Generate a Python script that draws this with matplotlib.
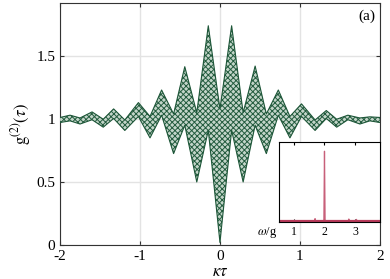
import numpy as np
import matplotlib
matplotlib.use('Agg')
from matplotlib import pyplot as plt

# envelope of g2(tau), read at the slow extrema
tau = [-2.0, -1.875, -1.75, -1.60, -1.46, -1.33, -1.19, -1.02, -0.875, -0.73,
       -0.58, -0.44, -0.29, -0.146, 0.0, 0.146, 0.29, 0.44, 0.58, 0.73,
       0.875, 1.02, 1.19, 1.33, 1.46, 1.60, 1.75, 1.875, 2.0]
g2_upper = [1.012, 1.03, 1.008, 1.056, 0.998, 1.08, 0.992, 1.13, 1.02, 1.23,
            1.04, 1.415, 1.05, 1.74, 1.08, 1.74, 1.05, 1.42, 1.04, 1.23,
            1.02, 1.12, 0.992, 1.067, 0.998, 1.03, 1.008, 1.017, 1.012]
g2_lower = [0.972, 0.985, 0.96, 0.994, 0.935, 1.004, 0.909, 1.02, 0.85, 1.03,
            0.725, 0.95, 0.50, 0.91, 0.02, 0.91, 0.50, 0.95, 0.725, 1.03,
            0.85, 1.02, 0.909, 1.004, 0.935, 0.994, 0.96, 0.985, 0.972]

# inset spectrum
omega = [0.5, 1.67, 1.69, 1.71, 1.98, 2.0, 2.02, 2.78, 2.8, 2.82, 3.03, 3.05, 3.07, 3.8]
spec = [0, 0, 0.03, 0, 0, 0.88, 0, 0, 0.025, 0, 0, 0.02, 0, 0]

xticks = [-2, -1, 0, 1, 2]
yticks = [0, 0.5, 1, 1.5]
inset_ticks = [1, 2, 3]

plt.rcParams['font.family'] = ['Liberation Serif', 'DejaVu Serif']
plt.rcParams['mathtext.fontset'] = 'stix'
plt.rcParams['axes.unicode_minus'] = False
plt.rcParams['hatch.linewidth'] = 0.7

green = '#1d5638'
fig = plt.figure(figsize=(3.9, 2.79), dpi=100)
ax = fig.add_axes([0.154, 0.122, 0.82, 0.867])

ax.fill_between(tau, g2_lower, g2_upper, facecolor='#c3d5c9', edgecolor='#245c3f',
                hatch='xxxxxx', linewidth=0, zorder=3)
ax.plot(tau, g2_upper, color=green, lw=0.8, zorder=4)
ax.plot(tau, g2_lower, color=green, lw=0.8, zorder=4)

ax.set_xlim(-2, 2)
ax.set_ylim(0, 1.92)
ax.set_xticks(xticks)
ax.set_xticklabels([str(t) for t in xticks])
ax.set_yticks(yticks)
ax.set_yticklabels(['0', '0.5', '1', '1.5'])
ax.grid(True, color='#e3e3e3', lw=1)
ax.set_axisbelow(True)
ax.tick_params(direction='in', top=True, right=True, labelsize=11, length=3, color='#333333')
for s in ax.spines.values():
    s.set_color('#333333')
ax.set_xlabel(r'$\kappa\tau$', fontsize=12, labelpad=1)
ax.set_ylabel(r'$\mathrm{g}^{(2)}(\tau)$', fontsize=12, labelpad=2)
ax.text(0.985, 0.975, '(a)', transform=ax.transAxes, ha='right', va='top', fontsize=11)

ins = fig.add_axes([0.715, 0.205, 0.259, 0.287])
ins.plot(omega, spec, color='#c8607a', lw=0.9)
ins.axhline(0, color='#b83a5a', lw=1.6)
ins.set_xlim(0.5, 3.82)
ins.set_ylim(-0.01, 1)
ins.set_xticks(inset_ticks)
ins.set_yticks([])
ins.tick_params(direction='in', top=True, labelsize=8.5, length=2, pad=3)
ins.text(-0.02, -0.13, r'$\omega$/g', transform=ins.transAxes, ha='right', va='center', fontsize=9)

fig.savefig('out.png', dpi=100)
